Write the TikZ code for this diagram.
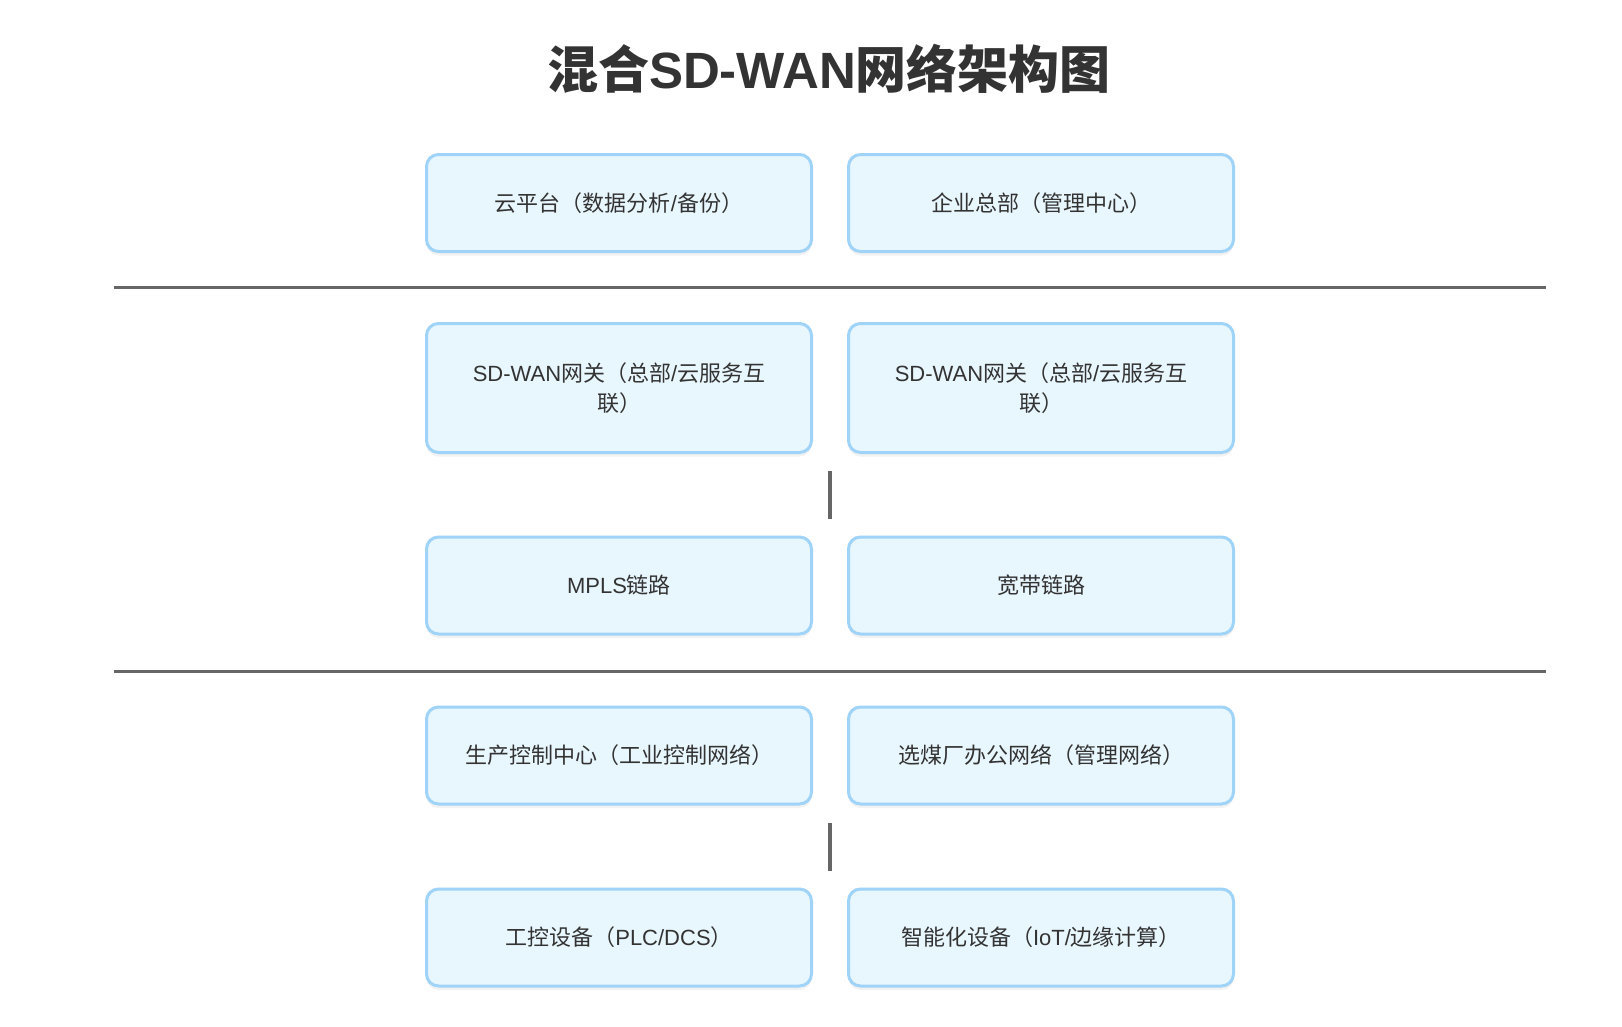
\documentclass[tikz,border=0pt]{standalone}
\usepackage{fontspec}
\setmainfont{Noto Sans CJK SC}
\newfontfamily\lat{Liberation Sans}
\usetikzlibrary{shadows}
\definecolor{boxfill}{HTML}{E8F6FE}
\definecolor{boxline}{HTML}{9FD3F8}
\definecolor{txt}{HTML}{333333}
\definecolor{sepcol}{HTML}{666666}
\tikzset{
  box/.style={draw=boxline, line width=3pt, fill=boxfill, rounded corners=12pt,
    minimum width=385pt, minimum height=97pt, align=center, text=txt,
    font=\fontsize{22}{30}\selectfont, inner sep=0pt,
    drop shadow={opacity=0.10, shadow xshift=0pt, shadow yshift=-4pt}},
  tallbox/.style={box, minimum height=129pt},
  sepline/.style={draw=sepcol, line width=3pt},
  vbar/.style={draw=sepcol, line width=4pt},
  titlestyle/.style={text=txt, font=\fontsize{51}{60}\selectfont\bfseries, inner sep=0pt}
}
\begin{document}
\begin{tikzpicture}[x=1pt,y=-1pt]
\useasboundingbox[fill=white] (0,0) rectangle (1622,1026);
\node[titlestyle] (title) at (829,69) {混合{\lat SD-WAN}网络架构图};

\node[box] (cloud) at (619,203) {云平台（数据分析{\lat /}备份）};
\node[box] (hq) at (1041,203) {企业总部（管理中心）};

\coordinate (s1a) at (114,287.5);
\coordinate (s1b) at (1546,287.5);
\draw[sepline] (s1a) -- (s1b);

\node[tallbox] (gw1) at (619,388) {{\lat SD-WAN}网关（总部{\lat /}云服务互\\联）};
\node[tallbox] (gw2) at (1041,388) {{\lat SD-WAN}网关（总部{\lat /}云服务互\\联）};

\coordinate (v1a) at (830,471);
\coordinate (v1b) at (830,519);
\draw[vbar] (v1a) -- (v1b);

\node[box] (mpls) at (619,585.5) {{\lat MPLS}链路};
\node[box] (bb) at (1041,585.5) {宽带链路};

\coordinate (s2a) at (114,671);
\coordinate (s2b) at (1546,671);
\draw[sepline] (s2a) -- (s2b);

\node[box] (prod) at (619,755.5) {生产控制中心（工业控制网络）};
\node[box] (office) at (1041,755.5) {选煤厂办公网络（管理网络）};

\coordinate (v2a) at (830,823);
\coordinate (v2b) at (830,871);
\draw[vbar] (v2a) -- (v2b);

\node[box] (plc) at (619,937.5) {工控设备（{\lat PLC/DCS}）};
\node[box] (iot) at (1041,937.5) {智能化设备（{\lat IoT/}边缘计算）};
\end{tikzpicture}
\end{document}
